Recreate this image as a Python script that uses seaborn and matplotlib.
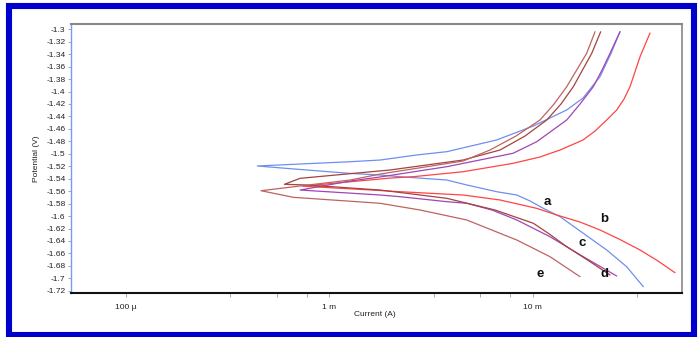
import numpy as np
import pandas as pd
import matplotlib
matplotlib.use('Agg')
import matplotlib.pyplot as plt
import matplotlib.ticker as mticker
from matplotlib.patches import Rectangle
import seaborn as sns

sns.set_style('white')
plt.rcParams['font.family'] = ['Liberation Sans', 'DejaVu Sans']

# Tafel curves, current in mA, potential in V (cathodic end -> Ecorr -> anodic end)
a_current = [34.95, 28.96, 23.10, 17.72, 13.62, 11.27, 9.70, 8.35, 6.65, 4.74, 3.78, 2.23, 1.78, 1.27, 0.72, 0.443,
             0.72, 1.27, 1.78, 2.69, 3.78, 6.65, 10.07, 14.69, 17.67, 21.41, 24.26, 26.85]
a_potential = [-1.7135, -1.6814, -1.6545, -1.6277, -1.6010, -1.5876, -1.5758, -1.5662, -1.5609, -1.5501, -1.5421,
               -1.5368, -1.5341, -1.5315, -1.5252, -1.5196,
               -1.5164, -1.5127, -1.5100, -1.5019, -1.4966, -1.4778, -1.4553, -1.4296, -1.4104, -1.3761, -1.3386, -1.3039]

b_current = [50.04, 41.27, 33.68, 26.85, 21.41, 17.08, 13.12, 10.46, 6.91, 4.55, 2.23, 1.78, 0.74,
             1.99, 2.58, 4.55, 8.00, 10.86, 13.62, 17.67, 20.24, 23.10, 25.87, 28.10, 30.07, 33.68, 37.72]
b_potential = [-1.6910, -1.6722, -1.6545, -1.6377, -1.6224, -1.6096, -1.5983, -1.5876, -1.5742, -1.5662, -1.5609,
               -1.5590, -1.5520,
               -1.5390, -1.5368, -1.5288, -1.5153, -1.5051, -1.4939, -1.4778, -1.4634, -1.4457, -1.4296, -1.4120,
               -1.3922, -1.3440, -1.3059]

c_current = [25.87, 17.72, 12.16, 8.35, 6.31, 4.74, 3.78, 2.23, 1.78, 0.719,
             1.27, 1.78, 3.78, 8.00, 10.46, 14.69, 17.08, 19.85, 21.90, 23.98, 26.85]
c_potential = [-1.6963, -1.6653, -1.6332, -1.6063, -1.5903, -1.5795, -1.5769, -1.5689, -1.5662, -1.5582,
               -1.5437, -1.5372, -1.5207, -1.4992, -1.4806, -1.4457, -1.4200, -1.3922, -1.3654, -1.3386, -1.3039]

d_current = [23.98, 18.91, 14.69, 12.16, 10.07, 6.53, 3.78, 1.78, 0.775, 0.602,
             0.719, 1.99, 4.545, 6.907, 9.17, 11.72, 13.77, 15.83, 19.50, 21.58]
d_potential = [-1.6947, -1.6722, -1.6492, -1.6296, -1.6116, -1.5903, -1.5715, -1.5582, -1.5501, -1.5490,
               -1.5394, -1.5260, -1.5100, -1.4939, -1.4714, -1.4457, -1.4200, -1.3922, -1.3386, -1.3039]

e_current = [17.08, 12.16, 8.35, 4.74, 2.794, 1.78, 0.666, 0.462,
             0.719, 1.27, 1.78, 4.545, 6.166, 8.28, 10.86, 12.73, 14.69, 18.41, 20.24]
e_potential = [-1.6974, -1.6653, -1.6385, -1.6063, -1.5903, -1.5795, -1.5699, -1.5593,
               -1.5517, -1.5421, -1.5325, -1.5116, -1.4939, -1.4714, -1.4457, -1.4200, -1.3922, -1.3386, -1.3039]

curve_names = ['a', 'b', 'c', 'd', 'e']
curve_colors = ['#6F8FEE', '#FF4444', '#A046B4', '#A2443F', '#BC6460']
label_current = [11.85, 22.41, 17.41, 22.41, 10.86]   # mA
label_potential = [-1.5769, -1.6052, -1.6428, -1.6931, -1.6931]

y_ticks = [-1.3, -1.32, -1.34, -1.36, -1.38, -1.4, -1.42, -1.44, -1.46, -1.48, -1.5, -1.52, -1.54,
           -1.56, -1.58, -1.6, -1.62, -1.64, -1.66, -1.68, -1.7, -1.72]
x_ticks = [1e-4, 1e-3, 1e-2]
x_tick_labels = ['100 µ', '1 m', '10 m']
x_minor = [3.26e-4, 5.52e-4, 7.75e-4, 3.26e-3, 5.52e-3, 7.75e-3, 3.26e-2]

currents = [a_current, b_current, c_current, d_current, e_current]
potentials = [a_potential, b_potential, c_potential, d_potential, e_potential]

fig = plt.figure(figsize=(7, 3.37), dpi=100)
ax = fig.add_axes([71 / 700, 44 / 337, 611 / 700, 269 / 337])

for name, col, cur, pot in zip(curve_names, curve_colors, currents, potentials):
    df = pd.DataFrame({'Current': np.array(cur) / 1000, 'Potential': pot})
    sns.lineplot(data=df, x='Current', y='Potential', sort=False, estimator=None,
                 color=col, lw=0.9, ax=ax)

for name, xc, yc in zip(curve_names, label_current, label_potential):
    ax.text(xc / 1000, yc, name, fontsize=9.5, fontweight='bold', ha='center', va='center', color='#111111')

ax.set_xscale('log')
ax.set_xlim(5.38e-5, 0.05415)
ax.set_ylim(-1.7236, -1.2915)
ax.xaxis.set_major_locator(mticker.FixedLocator(x_ticks))
ax.xaxis.set_major_formatter(mticker.FixedFormatter(x_tick_labels))
ax.xaxis.set_minor_locator(mticker.FixedLocator(x_minor))
ax.xaxis.set_minor_formatter(mticker.NullFormatter())
ax.yaxis.set_major_locator(mticker.FixedLocator(y_ticks))
ax.yaxis.set_major_formatter(mticker.FuncFormatter(lambda v, p: '%g' % round(v, 2)))
ax.set_xlabel('')
ax.set_ylabel('')

ax.tick_params(axis='x', which='both', direction='out', length=3, width=0.6, color='#999999',
               labelsize=6, labelcolor='#222222', pad=5, bottom=True)
ax.tick_params(axis='y', which='major', direction='out', length=2.5, width=0.6, color='#7B9BE8',
               labelsize=6, labelcolor='#222222', pad=1.5, left=True)

ax.spines['left'].set_color('#7B9BE8')
ax.spines['left'].set_linewidth(1.0)
ax.spines['bottom'].set_color('#111111')
ax.spines['bottom'].set_linewidth(1.5)
ax.spines['top'].set_color('#888888')
ax.spines['top'].set_linewidth(1.5)
ax.spines['right'].set_color('#888888')
ax.spines['right'].set_linewidth(1.2)

fig.text(37 / 700, 1 - 158.5 / 337, 'Potential (V)', rotation=90, ha='center', va='center',
         fontsize=6, color='#222222')
fig.text(375 / 700, 1 - 314 / 337, 'Current (A)', ha='center', va='center', fontsize=6, color='#222222')

# blue frame around the whole picture
fig.patches.append(Rectangle((9 / 700, 2.5 / 337), 684.5 / 700, 328.5 / 337, transform=fig.transFigure,
                             fill=False, edgecolor='#0000CC', linewidth=4.4))

fig.savefig('out.png', dpi=100)
